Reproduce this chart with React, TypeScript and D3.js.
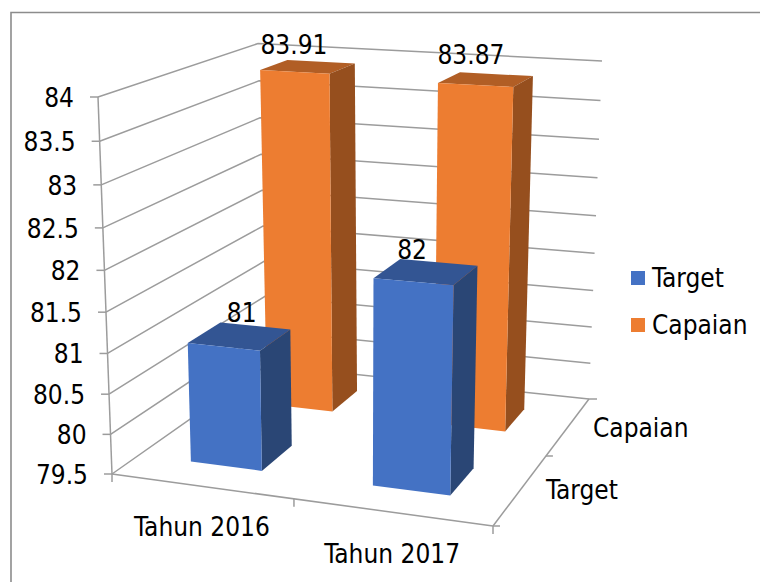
import React from "react";
import * as d3 from "d3";

const categories = ["Tahun 2016", "Tahun 2017"];
const seriesNames = ["Target", "Capaian"];
const targetValues = [81, 82];
const capaianValues = [83.91, 83.87];
const valueTicks = [79.5, 80, 80.5, 81, 81.5, 82, 82.5, 83, 83.5, 84];
const valueTickLabels = ["79.5", "80", "80.5", "81", "81.5", "82", "82.5", "83", "83.5", "84"];

const FONT = "'DejaVu Sans Condensed', 'DejaVu Sans', sans-serif";
const COLORS: Record<string, { front: string; top: string; side: string }> = {
  Target: { front: "#4472C4", top: "#335593", side: "#2A4675" },
  Capaian: { front: "#ED7D31", top: "#B15E25", side: "#964F1E" },
};
const GRID = "#9C9C9C";

type P = [number, number];

// camera calibration: corners of the floor and wall box
const floorFL: P = [112, 474];
const floorFR: P = [493, 526];
const floorBR: P = [589, 399];
const floorBL: P = [267, 365];
const topFL: P = [98, 97];
const topBL: P = [258, 43.5];
const topBR: P = [602, 61];
const R = -0.06;
const res10: P = [-2, 5];

const sx = floorFL[0] - floorFR[0] + floorBR[0] - floorBL[0];
const sy = floorFL[1] - floorFR[1] + floorBR[1] - floorBL[1];
const dx1 = floorFR[0] - floorBR[0];
const dx2 = floorBL[0] - floorBR[0];
const dy1 = floorFR[1] - floorBR[1];
const dy2 = floorBL[1] - floorBR[1];
const den = dx1 * dy2 - dx2 * dy1;
const G = (sx * dy2 - dx2 * sy) / den;
const H = (dx1 * sy - sx * dy1) / den;
const A = floorFR[0] - floorFL[0] + G * floorFR[0];
const B = floorBL[0] - floorFL[0] + H * floorBL[0];
const D = floorFR[1] - floorFL[1] + G * floorFR[1];
const E = floorBL[1] - floorFL[1] + H * floorBL[1];
const PX = topFL[0] * (1 + R) - floorFL[0];
const PY = topFL[1] * (1 + R) - floorFL[1];

const raw = (u: number, v: number, w: number): P => {
  const q = G * u + H * v + 1 + R * w;
  return [
    (A * u + B * v + floorFL[0] + PX * w) / q,
    (D * u + E * v + floorFL[1] + PY * w) / q,
  ];
};
const r01 = raw(0, 1, 1);
const r11 = raw(1, 1, 1);
const res01: P = [topBL[0] - r01[0], topBL[1] - r01[1]];
const res11: P = [topBR[0] - r11[0], topBR[1] - r11[1]];

const project = (u: number, v: number, w: number): P => {
  const p = raw(u, v, w);
  const a = w * v * (1 - u);
  const b = w * v * u;
  const c = w * u * (1 - v);
  return [
    p[0] + a * res01[0] + b * res11[0] + c * res10[0],
    p[1] + a * res01[1] + b * res11[1] + c * res10[1],
  ];
};

const wScale = d3.scaleLinear().domain([79.5, 84]).range([0, 1]);
const uScale = d3.scaleBand<string>().domain(categories).range([0, 1]).paddingInner(0.6).paddingOuter(0.3);
const vScale = d3.scaleBand<string>().domain(seriesNames).range([0, 1]).paddingInner(0.6).paddingOuter(0.3);
const poly = d3.line<P>();
const face = (pts: P[]) => (poly(pts) as string) + "Z";
const seg = (a: P, b: P) => poly([a, b]) as string;

const valuesBySeries: Record<string, number[]> = { Target: targetValues, Capaian: capaianValues };
const labelNudge: Record<string, number[]> = { Target: [2, -14], Capaian: [-14, -15] };
const labelLift: Record<string, number[]> = { Target: [23, 22], Capaian: [22, 24] };

const txt = { fontFamily: FONT, fontSize: 26, fill: "#000" } as const;

function Bar({ series, ci }: { series: string; ci: number }) {
  const cat = categories[ci];
  const val = valuesBySeries[series][ci];
  const u0 = uScale(cat) as number;
  const u1 = u0 + uScale.bandwidth();
  const v0 = vScale(series) as number;
  const v1 = v0 + vScale.bandwidth();
  const w = wScale(val);
  const c = COLORS[series];
  const topC = project((u0 + u1) / 2, (v0 + v1) / 2, w);
  return (
    <g>
      <path d={face([project(u0, v0, w), project(u1, v0, w), project(u1, v1, w), project(u0, v1, w)])} fill={c.top} />
      <path d={face([project(u1, v0, 0), project(u1, v1, 0), project(u1, v1, w), project(u1, v0, w)])} fill={c.side} />
      <path d={face([project(u0, v0, 0), project(u1, v0, 0), project(u1, v0, w), project(u0, v0, w)])} fill={c.front} />
      <text
        x={topC[0] + labelNudge[series][ci]}
        y={topC[1] - labelLift[series][ci]}
        textAnchor="middle"
        dominantBaseline="central"
        {...txt}
      >
        {String(val)}
      </text>
    </g>
  );
}

export default function App() {
  const bars: [string, number][] = [
    ["Capaian", 0],
    ["Capaian", 1],
    ["Target", 0],
    ["Target", 1],
  ];
  const axisStyle = { stroke: GRID, strokeWidth: 1.5, fill: "none" };
  const midU = project(0.5, 0, 0);
  const endU = project(1, 0, 0);
  const startU = project(0, 0, 0);
  const midV = project(1, 0.5, 0);
  const endV = project(1, 1, 0);
  return (
    <svg
      width={760}
      height={582}
      style={{ position: "absolute", left: 0, top: 0, display: "block", background: "#fff" }}
    >
      <path d="M760,12.5H11V582" fill="none" stroke="#8C8C8C" strokeWidth={1.6} />

      {valueTicks.map((t) => {
        const w = wScale(t);
        const front = project(0, 0, w);
        const back = project(0, 1, w);
        const right = project(1, 1, w);
        return (
          <g key={t}>
            <path d={poly([front, back, right]) as string} {...axisStyle} />
            <path d={seg([front[0] - 8, front[1]], front)} {...axisStyle} />
          </g>
        );
      })}
      <path d={seg(project(0, 0, 0), project(0, 0, 1))} {...axisStyle} />
      <path d={seg(startU, endU)} {...axisStyle} />
      <path d={seg(endU, endV)} {...axisStyle} />
      <path d={seg(startU, [startU[0], startU[1] + 8])} {...axisStyle} />
      <path d={seg(midU, [midU[0], midU[1] + 8])} {...axisStyle} />
      <path d={seg(endU, [endU[0], endU[1] + 8])} {...axisStyle} />
      <path d={seg(endU, [endU[0] + 7, endU[1]])} {...axisStyle} />
      <path d={seg(midV, [midV[0] + 7, midV[1]])} {...axisStyle} />
      <path d={seg(endV, [endV[0] + 8, endV[1]])} {...axisStyle} />

      {bars.map(([s, i]) => (
        <Bar key={s + i} series={s} ci={i} />
      ))}

      {valueTicks.map((t, i) => {
        const p = project(0, 0, wScale(t));
        return (
          <text key={t} x={p[0] - 24} y={p[1] + 1} textAnchor="end" dominantBaseline="central" {...txt}>
            {valueTickLabels[i]}
          </text>
        );
      })}

      {categories.map((c, i) => {
        const mid = project((uScale(c) as number) + uScale.bandwidth() / 2, 0, 0);
        return (
          <text key={c} x={mid[0] + 1} y={mid[1] + (i === 0 ? 41 : 42)} textAnchor="middle" dominantBaseline="central" {...txt}>
            {c}
          </text>
        );
      })}
      {seriesNames.map((s, i) => (
        <text key={s} x={i === 0 ? 546 : 593} y={i === 0 ? 490 : 428} dominantBaseline="central" {...txt}>
          {s}
        </text>
      ))}

      {seriesNames.map((s, i) => (
        <g key={s} transform={`translate(631,${271 + i * 47})`}>
          <rect width={14} height={14} fill={COLORS[s].front} />
          <text x={21} y={7} dominantBaseline="central" {...txt}>
            {s}
          </text>
        </g>
      ))}
    </svg>
  );
}
